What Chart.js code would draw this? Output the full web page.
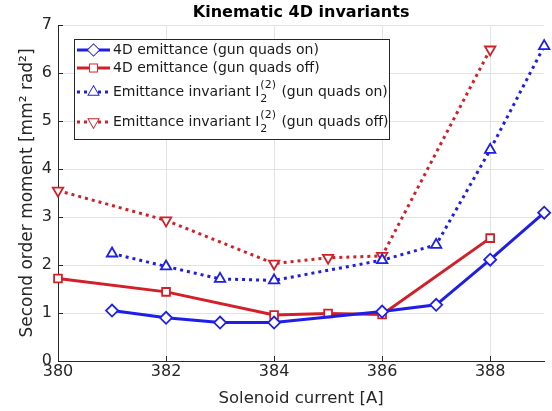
<!DOCTYPE html>
<html>
<head>
<meta charset="utf-8">
<script src="https://cdn.jsdelivr.net/npm/chart.js@4/dist/chart.umd.min.js"></script>
<style>
  html, body { margin: 0; padding: 0; background: #fff; }
  #wrap { width: 552px; height: 411px; }
</style>
</head>
<body>
<div id="wrap"><canvas id="chart" width="552" height="411"></canvas></div>
<script>
// ─── Data ──────────────────────────────────────────
const currentOn  = [381, 382, 383, 384, 386, 387, 388, 389];
const currentOff = [380, 382, 384, 385, 386, 388];
const emitOn  = [1.05, 0.90, 0.80, 0.80, 1.03, 1.17, 2.11, 3.09];
const emitOff = [1.72, 1.44, 0.96, 0.99, 0.97, 2.56];
const invOn   = [2.24, 1.97, 1.71, 1.68, 2.10, 2.42, 4.40, 6.56];
const invOff  = [3.55, 2.93, 2.03, 2.15, 2.19, 6.49];
const xTicks = [380, 382, 384, 386, 388];
const yTicks = [0, 1, 2, 3, 4, 5, 6, 7];

const BLUE = '#1e1ee8';
const RED = '#d21f28';
const FONT = "'DejaVu Sans', sans-serif";

const pts = (xs, ys) => xs.map((x, i) => ({ x, y: ys[i] }));

const series = [
  { label: '4D emittance (gun quads on)', data: pts(currentOn, emitOn), color: BLUE, style: 'rectRot', r: 6, dash: [], rot: 0 },
  { label: '4D emittance (gun quads off)', data: pts(currentOff, emitOff), color: RED, style: 'rect', r: 5.5, dash: [], rot: 0 },
  { label: 'Emittance invariant I', tail: ' (gun quads on)', sub: true, data: pts(currentOn, invOn), color: BLUE, style: 'triangle', r: 6, dash: [3, 4], rot: 0 },
  { label: 'Emittance invariant I', tail: ' (gun quads off)', sub: true, data: pts(currentOff, invOff), color: RED, style: 'triangle', r: 6, dash: [3, 4], rot: 180 }
];

// ─── Title, inner ticks, legend ────────────────────
const decorPlugin = {
  id: 'decor',
  afterDraw(chart) {
    const { ctx, chartArea: a, scales } = chart;
    ctx.save();
    // title
    ctx.fillStyle = '#000';
    ctx.font = 'bold 16px ' + FONT;
    ctx.textAlign = 'center';
    ctx.textBaseline = 'middle';
    ctx.fillText('Kinematic 4D invariants', (a.left + a.right) / 2, 13);

    // inward ticks
    ctx.strokeStyle = '#262626';
    ctx.lineWidth = 1;
    ctx.beginPath();
    xTicks.forEach(v => {
      const px = Math.round(scales.x.getPixelForValue(v)) + 0.5;
      ctx.moveTo(px, a.bottom); ctx.lineTo(px, a.bottom - 5);
    });
    yTicks.forEach(v => {
      const py = Math.round(scales.y.getPixelForValue(v)) + 0.5;
      ctx.moveTo(a.left, py); ctx.lineTo(a.left + 5, py);
    });
    ctx.stroke();

    // legend box
    const bx = 74, by = 39, bw = 315, bh = 100;
    ctx.fillStyle = '#fff';
    ctx.fillRect(bx, by, bw, bh);
    ctx.strokeStyle = '#262626';
    ctx.strokeRect(bx + 0.5, by + 0.5, bw, bh);

    const rowsY = [50, 68, 92, 122];
    series.forEach((s, i) => {
      const y = rowsY[i];
      ctx.strokeStyle = s.color;
      ctx.lineWidth = 3;
      ctx.setLineDash(s.dash);
      ctx.beginPath();
      ctx.moveTo(77, y); ctx.lineTo(110, y);
      ctx.stroke();
      ctx.setLineDash([]);
      ctx.lineWidth = 1.8;
      ctx.fillStyle = '#fff';
      Chart.helpers.drawPoint(ctx, { pointStyle: s.style, radius: s.r - 0.5, rotation: s.rot, borderWidth: 1.8 }, 93.5, y);
      ctx.fill();

      ctx.fillStyle = '#1a1a1a';
      ctx.textAlign = 'left';
      ctx.textBaseline = 'middle';
      ctx.font = '14px ' + FONT;
      let tx = 113;
      ctx.fillText(s.label, tx, y);
      tx += ctx.measureText(s.label).width + 1;
      if (s.sub) {
        ctx.font = '11px ' + FONT;
        ctx.fillText('(2)', tx, y - 7);
        const w1 = ctx.measureText('(2)').width;
        ctx.fillText('2', tx, y + 7);
        tx += w1 + 1;
        ctx.font = '14px ' + FONT;
        ctx.fillText(s.tail, tx, y);
      }
    });
    ctx.restore();
  }
};

// ─── Chart ─────────────────────────────────────────
const ctx = document.getElementById('chart');
new Chart(ctx, {
  type: 'line',
  data: {
    datasets: series.map(s => ({
      label: s.label,
      data: s.data,
      borderColor: s.color,
      backgroundColor: '#fff',
      borderWidth: 3,
      borderDash: s.dash,
      pointStyle: s.style,
      pointRadius: s.r,
      pointRotation: s.rot,
      pointBorderWidth: 1.8,
      pointBackgroundColor: '#fff',
      pointBorderColor: s.color,
      tension: 0,
      clip: false
    }))
  },
  options: {
    responsive: false,
    animation: false,
    layout: { padding: { left: 0, right: 7, top: 25, bottom: 0 } },
    plugins: { legend: { display: false }, title: { display: false }, tooltip: { enabled: false } },
    scales: {
      x: {
        type: 'linear', min: 380, max: 389,
        afterFit: s => { s.height = 50; },
        afterBuildTicks: s => { s.ticks = xTicks.map(v => ({ value: v })); },
        grid: { color: '#e3e3e3', drawTicks: false },
        border: { color: '#262626' },
        ticks: { padding: 1, color: '#262626', font: { family: FONT, size: 16 } },
        title: { display: true, text: 'Solenoid current [A]', color: '#262626', font: { family: FONT, size: 16.5 }, padding: { top: 0, bottom: 2 } }
      },
      y: {
        min: 0, max: 7,
        afterFit: s => { s.width = 58; },
        afterBuildTicks: s => { s.ticks = yTicks.map(v => ({ value: v })); },
        grid: { color: '#e3e3e3', drawTicks: false },
        border: { color: '#262626' },
        ticks: { padding: 6, color: '#262626', font: { family: FONT, size: 16 } },
        title: { display: true, text: 'Second order moment [mm² rad²]', color: '#262626', font: { family: FONT, size: 17 }, padding: { top: 17, bottom: 0 } }
      }
    }
  },
  plugins: [decorPlugin]
});
</script>
</body>
</html>
